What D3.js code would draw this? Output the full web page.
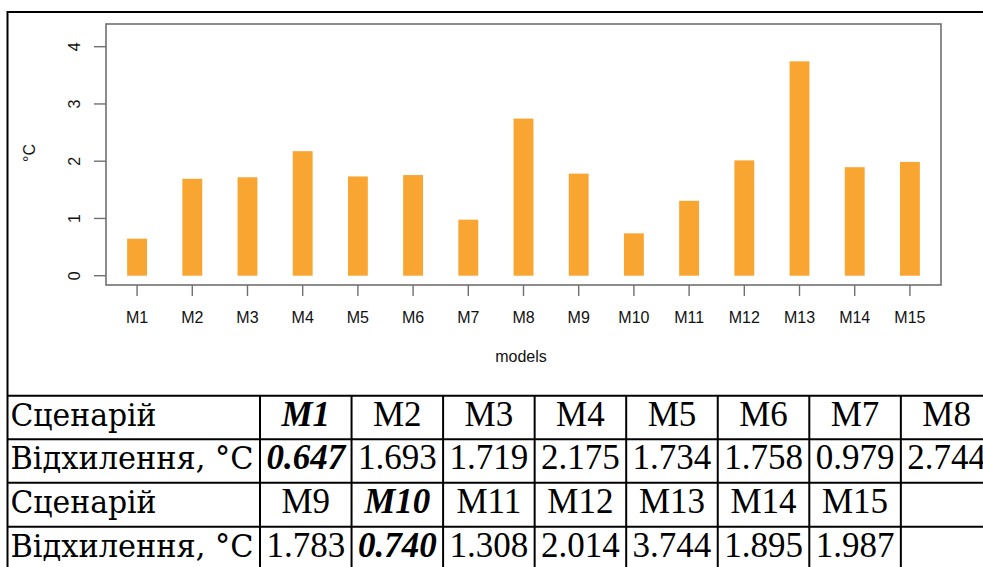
<!DOCTYPE html>
<html lang="uk">
<head>
  <meta charset="UTF-8">
  <script src="https://d3js.org/d3.v7.min.js"></script>
  <title>Відхилення моделей</title>
  <style>
    body { margin: 0; background: #fff; }
    .serif { font-family: "Liberation Serif", "Times New Roman", serif; }
    .cyr { font-family: "DejaVu Serif", "Liberation Serif", serif; }
    .sans { font-family: "Liberation Sans", Arial, Helvetica, sans-serif; }
  </style>
</head>
<body>
  <svg id="chart" width="983" height="567"></svg>

  <script>
    // data
    var models = ["M1","M2","M3","M4","M5","M6","M7","M8","M9","M10","M11","M12","M13","M14","M15"];
    var deviation = [0.647, 1.693, 1.719, 2.175, 1.734, 1.758, 0.979, 2.744, 1.783, 0.740, 1.308, 2.014, 3.744, 1.895, 1.987];
    var yTicks = [0, 1, 2, 3, 4];
    var highlighted = ["M1", "M10"];
    var rowLabels = ["Сценарій", "Відхилення, °C"];
    var valueLabels = ["0.647","1.693","1.719","2.175","1.734","1.758","0.979","2.744",
                       "1.783","0.740","1.308","2.014","3.744","1.895","1.987"];

    var svg = d3.select("#chart"),
      width = +svg.attr("width"),
      height = +svg.attr("height");

    // plot box
    var box = { left: 106, right: 941, top: 24, bottom: 285 };

    var x = d3.scaleBand()
      .domain(models)
      .range([box.left, box.right])
      .paddingInner(0.64)
      .paddingOuter(0.383);

    var y = d3.scaleLinear()
      .domain([0, 4])
      .range([275.7, 46.7]);

    // bars
    svg.append("g")
      .selectAll("rect")
      .data(models)
      .enter()
      .append("rect")
        .attr("x", function(d) { return x(d); })
        .attr("width", x.bandwidth())
        .attr("y", function(d, i) { return y(deviation[i]); })
        .attr("height", function(d, i) { return y(0) - y(deviation[i]); })
        .attr("fill", "#F9A532");

    // box around plot
    svg.append("rect")
      .attr("x", box.left)
      .attr("y", box.top)
      .attr("width", box.right - box.left)
      .attr("height", box.bottom - box.top)
      .attr("fill", "none")
      .attr("stroke", "#707070")
      .attr("stroke-width", 1.6);

    // y axis (R style: rotated labels)
    var yAxis = svg.append("g");
    yAxis.selectAll("line")
      .data(yTicks)
      .enter()
      .append("line")
        .attr("x1", 94).attr("x2", box.left)
        .attr("y1", function(d) { return y(d); })
        .attr("y2", function(d) { return y(d); })
        .attr("stroke", "#707070")
        .attr("stroke-width", 1.4);
    yAxis.selectAll("text")
      .data(yTicks)
      .enter()
      .append("text")
        .attr("class", "sans")
        .attr("transform", function(d) { return "translate(80," + y(d) + ") rotate(-90)"; })
        .attr("text-anchor", "middle")
        .attr("font-size", 16)
        .attr("fill", "#111")
        .text(function(d) { return d; });

    svg.append("text")
      .attr("class", "sans")
      .attr("transform", "translate(35,153) rotate(-90)")
      .attr("text-anchor", "middle")
      .attr("font-size", 16)
      .attr("fill", "#111")
      .text("°C");

    // x axis
    var xAxis = svg.append("g");
    xAxis.selectAll("line")
      .data(models)
      .enter()
      .append("line")
        .attr("x1", function(d) { return x(d) + x.bandwidth() / 2; })
        .attr("x2", function(d) { return x(d) + x.bandwidth() / 2; })
        .attr("y1", box.bottom).attr("y2", 296)
        .attr("stroke", "#707070")
        .attr("stroke-width", 1.4);
    xAxis.selectAll("text")
      .data(models)
      .enter()
      .append("text")
        .attr("class", "sans")
        .attr("x", function(d) { return x(d) + x.bandwidth() / 2; })
        .attr("y", 322.5)
        .attr("text-anchor", "middle")
        .attr("font-size", 16)
        .attr("fill", "#111")
        .text(function(d) { return d; });

    svg.append("text")
      .attr("class", "sans")
      .attr("x", 521)
      .attr("y", 361.5)
      .attr("text-anchor", "middle")
      .attr("font-size", 16)
      .attr("fill", "#111")
      .text("models");

    // table below the chart
    var tableLeft = 7.5, firstColW = 252.5, colW = 91.55;
    var rowTops = [395.7, 439.3, 482.7, 526.7, 570.5];
    var labelWidths = [146, 243];
    var nCols = 8;
    var colEdge = function(i) { return tableLeft + firstColW + i * colW; };

    var rows = [
      { label: 0, cells: models.slice(0, 8) },
      { label: 1, cells: valueLabels.slice(0, 8) },
      { label: 0, cells: models.slice(8) },
      { label: 1, cells: valueLabels.slice(8) }
    ];

    var grid = svg.append("g")
      .attr("stroke", "#000")
      .attr("stroke-width", 2);

    // outer frame of the chart cell
    grid.append("line").attr("x1", tableLeft).attr("x2", width).attr("y1", 12).attr("y2", 12);
    grid.append("line").attr("x1", tableLeft).attr("x2", tableLeft).attr("y1", 11).attr("y2", height);

    grid.selectAll(".hline")
      .data(rowTops)
      .enter()
      .append("line")
        .attr("class", "hline")
        .attr("x1", tableLeft).attr("x2", width)
        .attr("y1", function(d) { return d; })
        .attr("y2", function(d) { return d; });

    grid.selectAll(".vline")
      .data(d3.range(nCols + 1))
      .enter()
      .append("line")
        .attr("class", "vline")
        .attr("x1", function(i) { return colEdge(i); })
        .attr("x2", function(i) { return colEdge(i); })
        .attr("y1", rowTops[0]).attr("y2", height);

    var rowG = svg.selectAll(".row")
      .data(rows)
      .enter()
      .append("g")
        .attr("class", "row")
        .attr("transform", function(d, r) { return "translate(0," + (rowTops[r] + 30) + ")"; });

    // Cyrillic labels: a serif face that carries Cyrillic, squeezed to the cell width
    rowG.append("text")
      .attr("class", "cyr")
      .attr("x", tableLeft + 3)
      .attr("font-size", 32)
      .attr("textLength", function(d) { return labelWidths[d.label]; })
      .attr("lengthAdjust", "spacingAndGlyphs")
      .text(function(d) { return rowLabels[d.label]; });

    rowG.each(function(d, r) {
      var offset = r < 2 ? 0 : 8;
      d3.select(this).selectAll(".cell")
        .data(d.cells)
        .enter()
        .append("text")
          .attr("class", "cell serif")
          .attr("x", function(c, i) { return (colEdge(i) + colEdge(i + 1)) / 2; })
          .attr("text-anchor", "middle")
          .attr("font-size", 35)
          .attr("font-weight", function(c, i) { return highlighted.indexOf(models[offset + i]) >= 0 ? "bold" : "normal"; })
          .attr("font-style", function(c, i) { return highlighted.indexOf(models[offset + i]) >= 0 ? "italic" : "normal"; })
          .text(function(c) { return c; });
    });
  </script>
</body>
</html>
